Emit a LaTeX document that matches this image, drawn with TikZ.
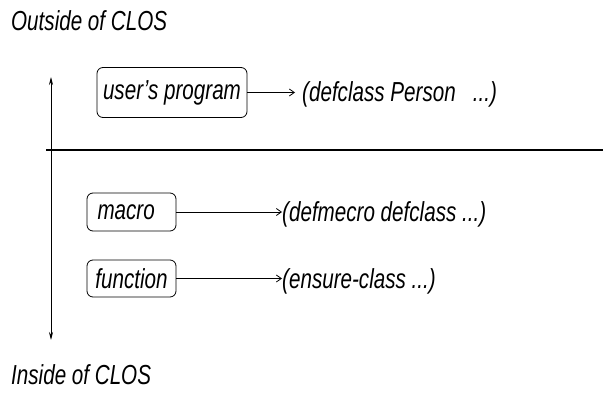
\documentclass[tikz,border=0pt]{standalone}
\usepackage{fontspec}
\setmainfont{Liberation Sans}[FakeStretch=0.75]
\usetikzlibrary{arrows.meta}
\begin{document}
\begin{tikzpicture}[x=1pt,y=-1pt,
  every node/.style={font=\fontsize{27.5}{31}\selectfont\itshape},
  roundbox/.style={draw,rounded corners=6pt,line width=0.8pt,inner sep=0pt},
  label/.style={anchor=base west,inner sep=0pt},
  flow/.style={line width=0.8pt,-{Straight Barb[length=5pt,width=7pt]}},
  axis/.style={line width=0.8pt,{Stealth[length=8pt,width=4pt]}-{Stealth[length=8pt,width=4pt]}}]
  \useasboundingbox (0,0) rectangle (603,393);

  % region captions
  \node[label] (outside) at (11,31) {Outside of CLOS};
  \node[label] (inside) at (11,384) {Inside of CLOS};

  % boundary between outside and inside
  \coordinate (divL) at (46,150);
  \coordinate (divR) at (603,150);
  \draw[line width=1.2pt] (divL) -- (divR);

  % vertical axis
  \coordinate (axTop) at (51,77);
  \coordinate (axBot) at (51,340);
  \draw[axis] (axBot) -- (axTop);

  % boxes
  \node[roundbox,minimum width=150pt,minimum height=50pt] (user) at (172,92.5) {user's program};
  \node[roundbox,text width=68pt,inner xsep=10.5pt,minimum height=38pt,align=left] (macro) at (131.5,212) {macro};
  \node[roundbox,minimum width=89pt,minimum height=37pt] (func) at (131.5,278.5) {function};

  % resulting forms
  \node[label] (utext) at (302,102) {(defclass Person\ \ \ ...)};
  \node[label] (mtext) at (282,222) {(defmecro defclass ...)};
  \node[label] (ftext) at (282,288) {(ensure-class ...)};

  % connectors
  \draw[flow] (user.east) -- ([xshift=-7pt]user.east -| utext.west);
  \draw[flow] (macro.east) -- (macro.east -| mtext.west);
  \draw[flow] (func.east) -- (func.east -| ftext.west);
\end{tikzpicture}
\end{document}
